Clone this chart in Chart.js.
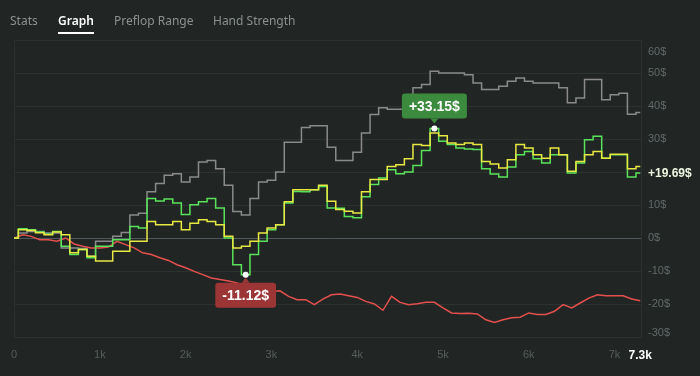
<!DOCTYPE html>
<html>
<head>
<meta charset="utf-8">
<script src="https://cdn.jsdelivr.net/npm/chart.js@4.4.1/dist/chart.umd.min.js"></script>
<style>
  html, body { margin: 0; padding: 0; background: #212624; overflow: hidden; }
  #wrap { position: relative; width: 700px; height: 376px; }
  #tabs { position: absolute; top: 0; left: 0; width: 700px; height: 38px; font-family: "Noto Sans", "Open Sans", sans-serif; font-size: 12px; z-index: 2; }
  .tab { position: absolute; top: 12px; color: #8c918f; white-space: nowrap; }
  .tab.active { color: #ffffff; font-weight: 600; }
  .tab.active::after { content: ""; position: absolute; left: 0; right: 0; top: 20px; height: 2px; background: #ffffff; }
  canvas { position: absolute; top: 0; left: 0; }
</style>
</head>
<body>
<div id="wrap">
  <div id="tabs">
    <span class="tab" style="left:10px">Stats</span>
    <span class="tab active" style="left:58px">Graph</span>
    <span class="tab" style="left:114px">Preflop Range</span>
    <span class="tab" style="left:213px">Hand Strength</span>
  </div>
  <canvas id="graph" width="700" height="376"></canvas>
</div>
<script>
// hands played (x axis)
const hands = [
  0, 100, 200, 300, 400, 500, 600, 700, 800, 900,
  1000, 1100, 1200, 1300, 1400, 1500, 1600, 1700, 1800, 1900,
  2000, 2100, 2200, 2300, 2400, 2500, 2600, 2700, 2800, 2900,
  3000, 3100, 3200, 3300, 3400, 3500, 3600, 3700, 3800, 3900,
  4000, 4100, 4200, 4300, 4400, 4500, 4600, 4700, 4800, 4900,
  5000, 5100, 5200, 5300, 5400, 5500, 5600, 5700, 5800, 5900,
  6000, 6100, 6200, 6300, 6400, 6500, 6600, 6700, 6800, 6900,
  7000, 7100, 7200, 7300
];

// net won ($)
const netWon = [
  0, 2.8, 2.5, 1.8, 1.2, 2, -2.5, -5, -3.5, -6,
  -2.5, -2.5, -0.5, -0.5, 3.5, 3, 12, 11.2, 11.8, 10.6,
  7.1, 10.1, 11, 12, 9.1, 0, -8.1, -11.12, -5, -1,
  2.5, 4, 10.6, 14.1, 14, 14.6, 15.6, 9.1, 9, 6.5,
  6.1, 12.5, 16.2, 18.2, 20.7, 19.5, 20, 22, 26.5, 33.15,
  29.3, 28.3, 27.3, 27, 26.8, 21, 19.4, 18.5, 21.5, 25.2,
  26.2, 24, 22.7, 25.2, 25.2, 19.7, 22.7, 29.8, 30.8, 24.2,
  25.2, 25.2, 18.5, 19.69
];

// all-in EV ($)
const allInEv = [
  0, 2.5, 2.3, 1.6, 1, 1.8, 1, -4.5, -3.5, -5.5,
  -7, -7, -4, -4, -1, -1, 5, 4, 4, 5,
  2.5, 4.5, 5.5, 5, 4, 0.5, -3, -2.5, -1, 1.5,
  3, 4, 11, 14.6, 14.6, 14.6, 16, 11.1, 8.6, 8.1,
  7.6, 14, 17.7, 17.7, 21.7, 22.2, 24, 28.3, 28, 31.8,
  31, 28.8, 28.3, 28.8, 28.3, 23.2, 22.4, 21.2, 23.7, 28.3,
  27.3, 25.2, 24.2, 27.3, 25.2, 20.2, 23.2, 25.2, 26.2, 24.2,
  25.4, 25.4, 21, 21.7
];

// showdown winnings ($)
const showdown = [
  0, 1.5, 2, 2, 1.5, 1.5, -3, -3, -3.2, -5.5,
  -1, -1, 0.5, 1.7, 7, 7.5, 14, 16.5, 19, 19.5,
  17, 18.5, 23, 23.5, 21, 16, 8, 7, 12, 17,
  17.5, 20, 29, 29, 33.5, 34, 34, 27.5, 23.5, 23.5,
  26, 31.8, 37.4, 39.5, 39, 39, 40.4, 45.5, 46.5, 50.5,
  50, 50, 50, 49.5, 47, 45, 45, 46, 47.5, 48.5,
  47.5, 47, 47, 47, 45.5, 41, 42.4, 48, 48, 41.9,
  43.4, 43.9, 37.5, 38
];

// non-showdown winnings ($)
const nonShowdown = [
  0, 1, 0.5, -0.5, -0.5, -1, 0, -1.8, -2.5, -3,
  -3, -2.7, -1, -2, -3, -4.5, -5, -6, -6.8, -8.1,
  -9, -10.1, -11.1, -12.1, -12.6, -13, -13.6, -14.7, -15, -16.2,
  -16.2, -16, -17.7, -18.7, -18.7, -20.2, -18.5, -17.2, -17, -17.5,
  -18, -19.2, -20, -21.9, -17.7, -19.5, -20.2, -19.9, -19.5, -19.5,
  -21.2, -22.7, -22.9, -22.8, -23, -24.8, -25.6, -24.8, -24.2, -24,
  -22.7, -23.2, -23.2, -22.2, -20.2, -21.2, -19.7, -18.2, -17.2, -17.5,
  -17.5, -17.5, -18.5, -19
];

const tickHands = [0, 1000, 2000, 3000, 4000, 5000, 6000, 7000, 7300];
const tickLabels = ['0', '1k', '2k', '3k', '4k', '5k', '6k', '7k', '7.3k'];
const yTicks = [60, 50, 40, 30, 20, 10, 0, -10, -20, -30];

const pts = arr => arr.map((v, i) => ({ x: hands[i], y: v }));
const lastHand = tickHands[tickHands.length - 1];

function roundRect(ctx, x, y, w, h, r) {
  ctx.beginPath();
  ctx.moveTo(x + r, y);
  ctx.lineTo(x + w - r, y);
  ctx.quadraticCurveTo(x + w, y, x + w, y + r);
  ctx.lineTo(x + w, y + h - r);
  ctx.quadraticCurveTo(x + w, y + h, x + w - r, y + h);
  ctx.lineTo(x + r, y + h);
  ctx.quadraticCurveTo(x, y + h, x, y + h - r);
  ctx.lineTo(x, y + r);
  ctx.quadraticCurveTo(x, y, x + r, y);
  ctx.closePath();
}

// frame, y labels, markers and value bubbles
const overlay = {
  id: 'overlay',
  beforeDatasetsDraw(chart) {
    const { ctx, chartArea: a } = chart;
    ctx.save();
    ctx.strokeStyle = '#2c3230';
    ctx.lineWidth = 1;
    ctx.beginPath();
    ctx.moveTo(a.left + 0.5, a.top);
    ctx.lineTo(a.left + 0.5, a.bottom);
    ctx.moveTo(a.right - 0.5, a.top);
    ctx.lineTo(a.right - 0.5, a.bottom);
    ctx.stroke();
    ctx.restore();
  },
  afterDatasetsDraw(chart) {
    const { ctx, chartArea: a, scales } = chart;
    const xs = scales.x, ys = scales.y;
    const last = netWon[netWon.length - 1];
    const lastY = ys.getPixelForValue(last);

    ctx.save();
    // y axis labels, kept inside the pane
    ctx.font = '11px "Liberation Sans", Arial, sans-serif';
    ctx.fillStyle = '#62686a';
    ctx.textAlign = 'left';
    ctx.textBaseline = 'middle';
    yTicks.forEach(v => {
      let y = ys.getPixelForValue(v);
      if (Math.abs(y - lastY) < 12) return;
      y = Math.min(Math.max(y, a.top + 12), a.bottom - 4);
      ctx.fillText(v + '$', a.right + 6, y);
    });

    // last value
    ctx.font = 'bold 12px "Liberation Sans", Arial, sans-serif';
    ctx.fillStyle = '#eef6e0';
    ctx.fillText((last >= 0 ? '+' : '') + last.toFixed(2) + '$', a.right + 6, lastY + 1);

    // peak and trough of net won
    let hi = 0, lo = 0;
    netWon.forEach((v, i) => {
      if (v > netWon[hi]) hi = i;
      if (v < netWon[lo]) lo = i;
    });
    const bubble = (i, up, color) => {
      const px = xs.getPixelForValue(hands[i]);
      const py = ys.getPixelForValue(netWon[i]);
      const txt = (netWon[i] >= 0 ? '+' : '') + netWon[i].toFixed(2) + '$';
      ctx.font = 'bold 14px "Liberation Sans", Arial, sans-serif';
      const w = ctx.measureText(txt).width + 14;
      const h = 25;
      const by = up ? py - 10 - h : py + 8;
      ctx.fillStyle = color;
      roundRect(ctx, px - w / 2, by, w, h, 3);
      ctx.fill();
      ctx.beginPath();
      if (up) {
        ctx.moveTo(px - 4, by + h);
        ctx.lineTo(px, py - 5);
        ctx.lineTo(px + 4, by + h);
      } else {
        ctx.moveTo(px - 4, by);
        ctx.lineTo(px, py + 3);
        ctx.lineTo(px + 4, by);
      }
      ctx.fill();
      ctx.fillStyle = '#ffffff';
      ctx.textAlign = 'center';
      ctx.textBaseline = 'middle';
      ctx.fillText(txt, px, by + h / 2 + 1);
      ctx.beginPath();
      ctx.arc(px, py, 3, 0, Math.PI * 2);
      ctx.fill();
    };
    bubble(hi, true, '#3b8a3e');
    bubble(lo, false, '#9c3636');
    ctx.restore();
  }
};

const ctx = document.getElementById('graph').getContext('2d');
new Chart(ctx, {
  type: 'line',
  data: {
    datasets: [
      { label: 'All-in EV', data: pts(allInEv), borderColor: '#e8e843', stepped: 'middle' },
      { label: 'Net won', data: pts(netWon), borderColor: '#5ae35a', stepped: 'middle' },
      { label: 'Non-showdown', data: pts(nonShowdown), borderColor: '#e4504e' },
      { label: 'Showdown', data: pts(showdown), borderColor: '#8a8a8a', stepped: 'middle' }
    ]
  },
  options: {
    responsive: false,
    animation: false,
    events: [],
    layout: { padding: { top: 40, left: 10, right: 0, bottom: 0 } },
    elements: {
      point: { radius: 0 },
      line: { borderWidth: 1.5, tension: 0 }
    },
    plugins: { legend: { display: false }, tooltip: { enabled: false } },
    scales: {
      x: {
        type: 'linear',
        min: 0,
        max: 7320,
        grid: { display: false, drawTicks: false },
        border: { display: false },
        afterBuildTicks: s => { s.ticks = tickHands.map(v => ({ value: v })); },
        afterFit: s => { s.height = 39; },
        ticks: {
          autoSkip: false,
          maxRotation: 0,
          padding: 11,
          callback: (v) => tickLabels[tickHands.indexOf(v)],
          color: c => (c.tick && c.tick.value === lastHand) ? '#ffffff' : '#575d5b',
          font: c => (c.tick && c.tick.value === lastHand)
            ? { family: '"Liberation Sans", Arial, sans-serif', size: 12, weight: 'bold' }
            : { family: '"Liberation Sans", Arial, sans-serif', size: 11 }
        }
      },
      y: {
        position: 'right',
        min: -30,
        max: 60,
        afterBuildTicks: s => { s.ticks = yTicks.map(v => ({ value: v })); },
        afterFit: s => { s.width = 58; },
        grid: {
          drawTicks: false,
          color: c => (c.tick && c.tick.value === 0) ? '#50575a' : '#2c3230'
        },
        border: { display: false },
        ticks: { display: false }
      }
    }
  },
  plugins: [overlay]
});
</script>
</body>
</html>
